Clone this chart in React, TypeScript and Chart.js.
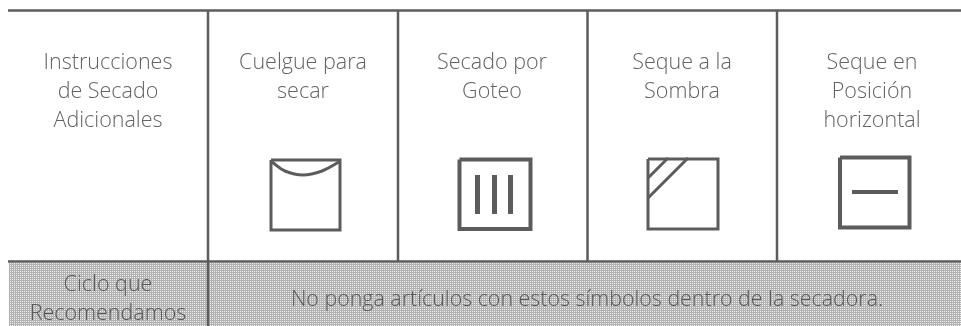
import React, { useEffect, useRef } from "react";
import { Chart, registerables } from "chart.js";

Chart.register(...registerables);

const WIDTH = 961;
const HEIGHT = 326;

const FONT = '"Open Sans", "Noto Sans", sans-serif';
const INK = "#636363";
const BAND_INK = "#585858";
const RULE = "#5c5c5c";
const DOT_DARK = "#b2b2b2";
const DOT_LIGHT = "#ececec";

const headerColumns = [
  { x: 108, lines: ["Instrucciones", "de Secado", "Adicionales"] },
  { x: 303, lines: ["Cuelgue para", "secar"] },
  { x: 492, lines: ["Secado por", "Goteo"] },
  { x: 682, lines: ["Seque a la", "Sombra"] },
  { x: 872, lines: ["Seque en", "Posición", "horizontal"] },
];
const headerBaselines = [69, 98, 127];
const footerLabel = { x: 108, lines: ["Ciclo que", "Recomendamos"], baselines: [291, 320] };
const footerNote = { x: 587, y: 306, text: "No ponga artículos con estos símbolos dentro de la secadora." };

type P = { x: number; y: number };
const seg = (x1: number, y1: number, x2: number, y2: number): P[] => [
  { x: x1, y: y1 },
  { x: x2, y: y2 },
];

const bandTop = seg(9, 263, 961, 263);
const bandBottom = 326;
const horizontalRules = [seg(8, 10.5, 961, 10.5), seg(8, 261.5, 961, 261.5)];
const verticalRules = [
  seg(208, 10, 208, 326),
  seg(398, 10, 398, 261),
  seg(587.5, 10, 587.5, 261),
  seg(777, 10, 777, 261),
];

const hangBox: P[] = [
  { x: 271, y: 160 },
  { x: 340, y: 160 },
  { x: 340, y: 230 },
  { x: 271, y: 230 },
  { x: 271, y: 160 },
];
const hangCurve: P[] = [
  { x: 272, y: 162 },
  { x: 285, y: 171 },
  { x: 303, y: 175 },
  { x: 322, y: 171 },
  { x: 339, y: 162 },
];
const dripBox: P[] = [
  { x: 459.5, y: 159.5 },
  { x: 530.5, y: 159.5 },
  { x: 530.5, y: 229 },
  { x: 459.5, y: 229 },
  { x: 459.5, y: 159.5 },
];
const dripBars = [seg(477.5, 175, 477.5, 214), seg(494.5, 175, 494.5, 214), seg(510.5, 175, 510.5, 214)];
const shadeBox: P[] = [
  { x: 648, y: 159 },
  { x: 718, y: 159 },
  { x: 718, y: 229 },
  { x: 648, y: 229 },
  { x: 648, y: 159 },
];
const shadeStripes = [seg(688, 158, 648, 198), seg(668, 158, 648, 178)];
const flatBox: P[] = [
  { x: 840, y: 157.5 },
  { x: 909.5, y: 157.5 },
  { x: 909.5, y: 227.5 },
  { x: 840, y: 227.5 },
  { x: 840, y: 157.5 },
];
const flatBar = seg(852, 192, 898, 192);

const line = (data: P[], borderWidth: number, tension = 0) => ({
  type: "line" as const,
  data,
  borderColor: RULE,
  borderWidth,
  tension,
  pointRadius: 0,
  fill: false,
  showLine: true,
});

function dither() {
  const c = document.createElement("canvas");
  c.width = 2;
  c.height = 2;
  const g = c.getContext("2d")!;
  g.fillStyle = DOT_DARK;
  g.fillRect(0, 0, 2, 2);
  g.fillStyle = DOT_LIGHT;
  g.fillRect(0, 1, 1, 1);
  return g.createPattern(c, "repeat");
}

const textPlugin = {
  id: "tableText",
  afterDatasetsDraw(chart: any) {
    const { ctx, scales } = chart;
    const put = (text: string, x: number, y: number, size: number, color: string) => {
      ctx.font = `300 ${size}px ${FONT}`;
      ctx.fillStyle = color;
      ctx.textAlign = "center";
      ctx.textBaseline = "alphabetic";
      ctx.fillText(text, scales.x.getPixelForValue(x), scales.y.getPixelForValue(y));
    };
    ctx.save();
    headerColumns.forEach((c) => c.lines.forEach((t, i) => put(t, c.x, headerBaselines[i], 21.5, INK)));
    footerLabel.lines.forEach((t, i) => put(t, footerLabel.x, footerLabel.baselines[i], 21.5, BAND_INK));
    put(footerNote.text, footerNote.x, footerNote.y, 21.4, BAND_INK);
    ctx.restore();
  },
};

export default function App() {
  const ref = useRef<HTMLCanvasElement>(null);
  useEffect(() => {
    document.body.style.margin = "0";
    const chart = new Chart(ref.current!, {
      type: "scatter",
      data: {
        datasets: [
          ...horizontalRules.map((d) => line(d, 2.5)),
          ...verticalRules.map((d) => line(d, 2.5)),
          line(hangBox, 3),
          line(hangCurve, 3, 0.4),
          line(dripBox, 4),
          ...dripBars.map((d) => line(d, 5)),
          line(shadeBox, 3),
          ...shadeStripes.map((d) => line(d, 3)),
          line(flatBox, 4),
          line(flatBar, 4),
          {
            type: "line",
            data: bandTop,
            borderWidth: 0,
            backgroundColor: dither(),
            fill: { value: bandBottom },
            pointRadius: 0,
          } as any,
        ],
      },
      options: {
        animation: false,
        responsive: false,
        layout: { padding: 0 },
        plugins: { legend: { display: false }, tooltip: { enabled: false } },
        scales: {
          x: { type: "linear", display: false, min: 0, max: WIDTH },
          y: { type: "linear", display: false, min: 0, max: HEIGHT, reverse: true },
        },
      },
      plugins: [textPlugin],
    } as any);
    return () => chart.destroy();
  }, []);
  return <canvas ref={ref} width={WIDTH} height={HEIGHT} style={{ display: "block" }} />;
}
